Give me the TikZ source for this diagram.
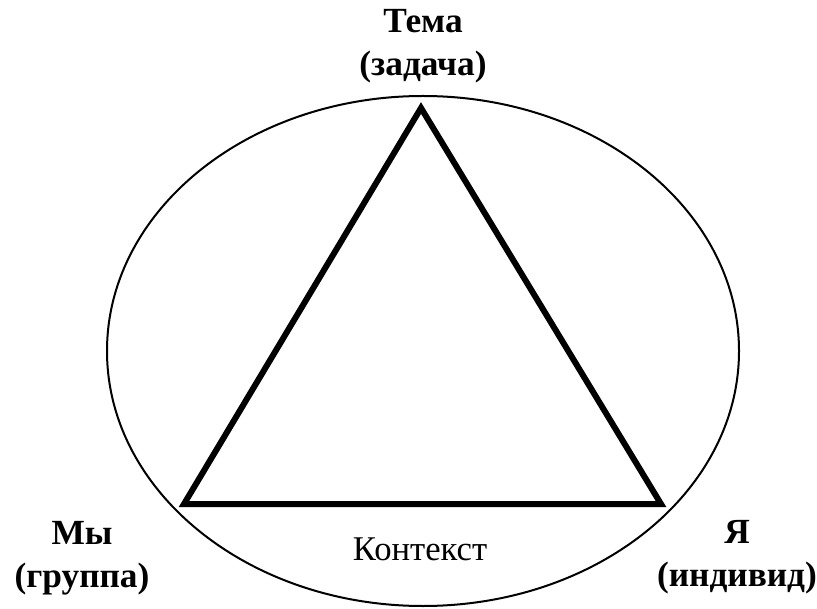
\documentclass[tikz,border=0pt]{standalone}
\usepackage{fontspec}
\setmainfont{Liberation Serif}

\begin{document}
\begin{tikzpicture}[x=0.75pt,y=-0.75pt,
	corner/.style={font=\fontsize{26.5}{32.5}\selectfont\bfseries,align=center},
	ctx/.style={font=\fontsize{26}{30}\selectfont}]
	\useasboundingbox (0,0) rectangle (817,609);
	\draw[line width=1.5pt] (423,351) ellipse (316 and 255);
	\coordinate (top) at (421,108);
	\coordinate (left) at (184,504);
	\coordinate (right) at (661,504);
	\draw[line width=4.5pt,line join=miter] (top) -- (right) -- (left) -- cycle;
	\node[corner] (tema) at (423,46) {Тема\\(задача)};
	\node[corner] (my) at (82,558) {Мы\\(группа)};
	\node[corner] (ya) at (737,557) {Я\\(индивид)};
	\node[ctx] (kontekst) at (420,549) {Контекст};
\end{tikzpicture}
\end{document}
